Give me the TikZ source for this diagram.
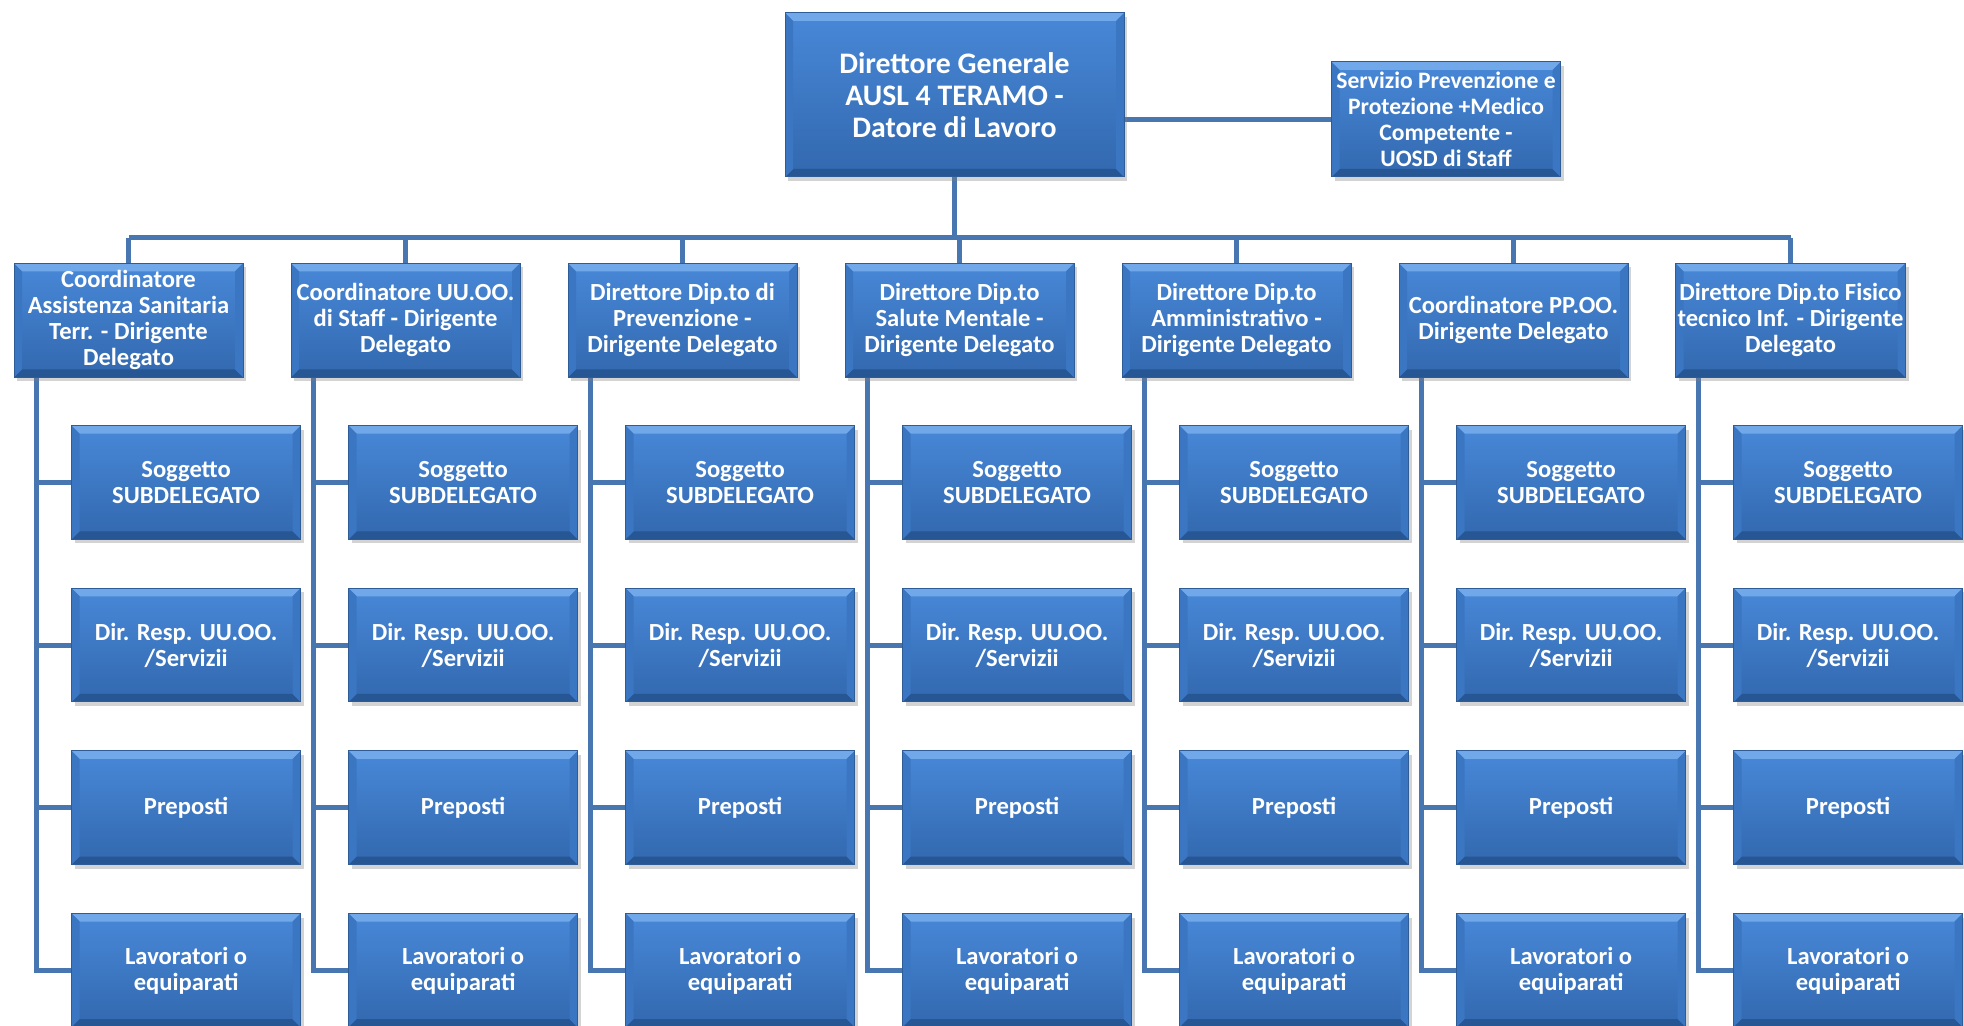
\documentclass[tikz,border=0pt]{standalone}
\usepackage{fontspec}
\setmainfont{Carlito}
\usetikzlibrary{shadows,backgrounds,calc}
\definecolor{boxtop}{RGB}{72,136,216}
\definecolor{boxbot}{RGB}{50,104,174}
\definecolor{bevlight}{RGB}{112,168,234}
\definecolor{bevdark}{RGB}{38,86,148}
\definecolor{bevside}{RGB}{58,118,194}
\definecolor{boxedge}{RGB}{46,92,150}
\definecolor{linkcol}{RGB}{72,118,176}
\begin{document}
\begin{tikzpicture}[x=0.5pt, y=-0.5pt, thick]
\tikzset{
  unitbox/.style={draw=boxedge, line width=0.5pt, top color=boxtop, bottom color=boxbot,
    text=white, font=\bfseries\fontsize{12.3}{13}\selectfont, align=center, inner sep=1pt,
    minimum width=114.5pt, minimum height=57pt,
    drop shadow={shadow xshift=1.5pt, shadow yshift=-2pt, opacity=.35},
    path picture={
      \coordinate (nw) at (path picture bounding box.north west);
      \coordinate (se) at (path picture bounding box.south east);
      \fill[bevlight] (nw) -- (nw -| se) -- ++(-4pt,-4pt) -- ($(nw)+(4pt,-4pt)$) -- cycle;
      \fill[bevdark] (se) -- (nw |- se) -- ++(4pt,4pt) -- ($(se)+(-4pt,4pt)$) -- cycle;
      \fill[bevside] (nw) -- ($(nw)+(4pt,-4pt)$) -- ($(nw |- se)+(4pt,4pt)$) -- (nw |- se) -- cycle;
      \fill[bevside] (se) -- ($(se)+(-4pt,4pt)$) -- ($(se |- nw)+(-4pt,-4pt)$) -- (se |- nw) -- cycle;
    }},
  link/.style={draw=linkcol, line width=2.5pt}
}
\useasboundingbox (0,0) rectangle (1964,1026);
\node[unitbox, minimum width=169.5pt, minimum height=82pt, font=\bfseries\fontsize{14.9}{16}\selectfont] (dg) at (954.5,95)
  {Direttore Generale\\AUSL 4 TERAMO -\\Datore di Lavoro};
\node[unitbox, minimum height=57.5pt, font=\bfseries\fontsize{11.8}{13}\selectfont] (spp) at (1446,119.5)
  {Servizio Prevenzione e\\Protezione +Medico\\Competente -\\UOSD di Staff};
\foreach \i/\t in {1/{Coordinatore\\Assistenza Sanitaria\\Terr. - Dirigente\\Delegato},
                   2/{Coordinatore UU.OO.\\di Staff - Dirigente\\Delegato},
                   3/{Direttore Dip.to di\\Prevenzione -\\Dirigente Delegato},
                   4/{Direttore Dip.to\\Salute Mentale -\\Dirigente Delegato},
                   5/{Direttore Dip.to\\Amministrativo -\\Dirigente Delegato},
                   6/{Coordinatore PP.OO.\\Dirigente Delegato},
                   7/{Direttore Dip.to Fisico\\tecnico Inf. - Dirigente\\Delegato}}{
  \node[unitbox] (d\i) at ({128.5+277*(\i-1)},320.3) {\t};
  \foreach \k/\s in {1/{Soggetto\\SUBDELEGATO}, 2/{Dir. Resp. UU.OO.\\/Servizii},
                     3/{Preposti}, 4/{Lavoratori o\\equiparati}}
    \node[unitbox, minimum height=56.8pt] (d\i-\k) at ({186.1+277*(\i-1)},{482.5+162.6*(\k-1)}) {\s};
}
\begin{scope}[on background layer]
\coordinate (bus) at (954.5,238);
\path[link] (dg.east |- spp.west) -- (spp.west);
\path[link] (dg.south) -- (bus);
\path[link] (bus -| d1.north) -- (bus -| d7.north);
\foreach \i in {1,...,7}{
  \path[link] (bus -| d\i.north) -- (d\i.north);
  \coordinate (sp\i) at ([xshift=11.5pt]d\i.south west);
  \path[link] (sp\i) |- (d\i-4.west);
  \foreach \k in {1,2,3}
    \path[link] (sp\i |- d\i-\k.west) -- (d\i-\k.west);
}
\end{scope}
\end{tikzpicture}
\end{document}
